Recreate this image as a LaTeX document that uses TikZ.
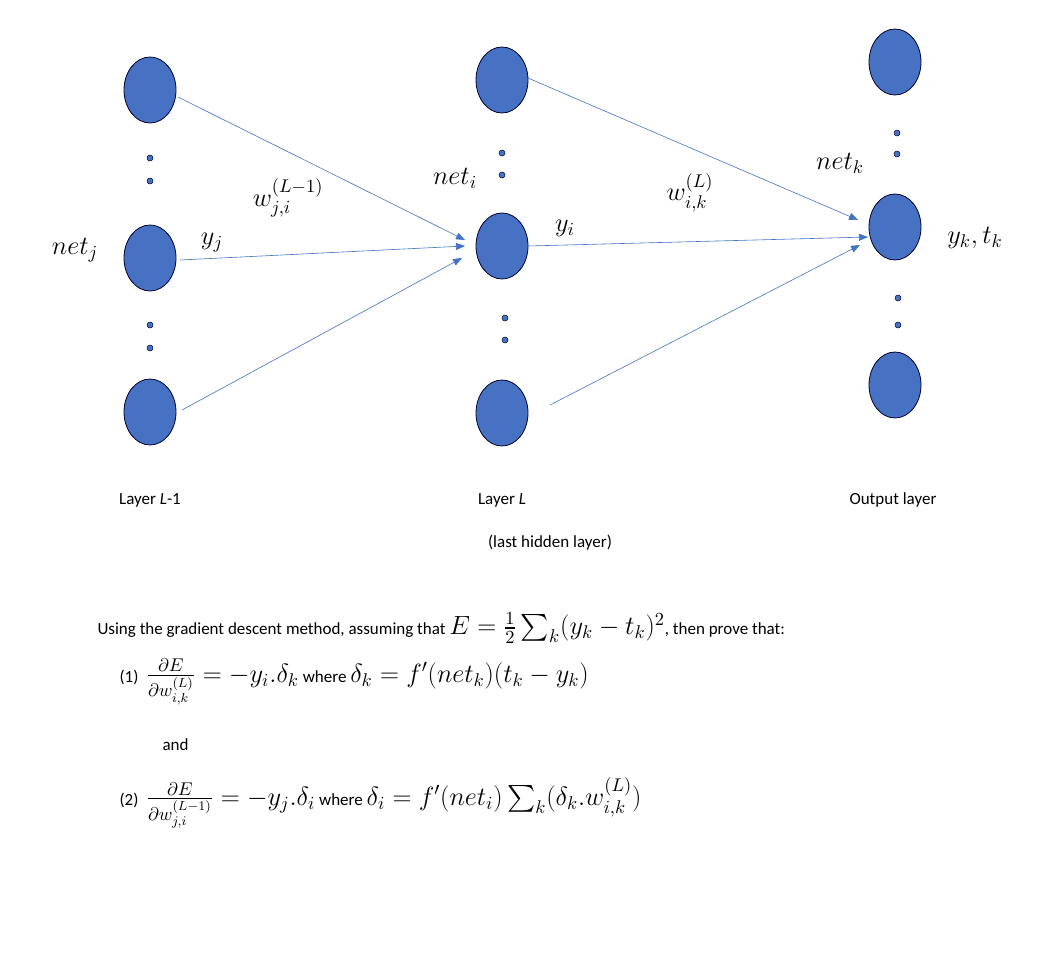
\RequirePackage{fix-cm}
\documentclass[tikz,border=0pt]{standalone}
\usepackage{amsmath}
\usepackage{graphicx}
\usepackage{fontspec}
\setmainfont{Carlito}
\usetikzlibrary{shapes.geometric,arrows.meta}
\newcommand\mymth[1]{\scalebox{1.55}{$#1$}}
\begin{document}
\begin{tikzpicture}[x=1pt,y=-1pt,
  neuron/.style={ellipse,draw=black!80!blue,line width=0.8pt,fill={rgb,255:red,71;green,114;blue,196},minimum width=52pt,minimum height=66pt,inner sep=0pt},
  dotn/.style={circle,draw=black!80!blue,line width=0.5pt,fill={rgb,255:red,71;green,114;blue,196},minimum size=6pt,inner sep=0pt},
  conn/.style={draw={rgb,255:red,68;green,114;blue,196},line width=0.6pt,-{Triangle[length=9pt,width=7pt]}},
  lab/.style={font=\fontsize{17}{20}\selectfont},
  txt/.style={font=\fontsize{17}{20}\selectfont,anchor=west}]
\useasboundingbox (0,0) rectangle (1044,958);
\fill[white] (0,0) rectangle (1044,958);
% layer L-1
\node[neuron] (a1) at (150,90) {};
\node[neuron] (a2) at (150,258) {};
\node[neuron] (a3) at (150,412) {};
\node[dotn] (ad1) at (150,158) {}; \node[dotn] (ad2) at (150,181) {};
\node[dotn] (ad3) at (150,325) {}; \node[dotn] (ad4) at (150,348) {};
% layer L
\node[neuron] (b1) at (502,80) {};
\node[neuron] (b2) at (502,246) {};
\node[neuron] (b3) at (502,413) {};
\node[dotn] (bd1) at (502,153) {}; \node[dotn] (bd2) at (502,175) {};
\node[dotn] (bd3) at (505,318) {}; \node[dotn] (bd4) at (505,340) {};
% output
\node[neuron] (c1) at (895,62) {};
\node[neuron] (c2) at (895,227) {};
\node[neuron] (c3) at (895,385) {};
\node[dotn] (cd1) at (897,133) {}; \node[dotn] (cd2) at (897,154) {};
\node[dotn] (cd3) at (898,298) {}; \node[dotn] (cd4) at (898,325) {};
% endpoints
\coordinate (e1) at (465,240); \coordinate (e2) at (465,246); \coordinate (e3) at (462,258);
\coordinate (f1) at (858,220); \coordinate (f2) at (868,237); \coordinate (f3) at (860,245);
\coordinate (s1) at (178,97); \coordinate (s2) at (180,260); \coordinate (s3) at (182,410);
\coordinate (t1) at (528,78); \coordinate (t2) at (528,246); \coordinate (t3) at (550,405);
\draw[conn] (s1) -- (e1);
\draw[conn] (s2) -- (e2);
\draw[conn] (s3) -- (e3);
\draw[conn] (t1) -- (f1);
\draw[conn] (t2) -- (f2);
\draw[conn] (t3) -- (f3);
% labels
\node[lab] (l1) at (75,250) {\mymth{net_j}};
\node[lab] (l2) at (212,243) {\mymth{y_j}};
\node[lab] (l3) at (288,198) {\mymth{w_{j,i}^{(L-1)}}};
\node[lab] (l4) at (455,178) {\mymth{net_i}};
\node[lab] (l5) at (565,228) {\mymth{y_i}};
\node[lab] (l6) at (690,193) {\mymth{w_{i,k}^{(L)}}};
\node[lab] (l7) at (840,163) {\mymth{net_k}};
\node[lab] (l8) at (975,238) {\mymth{y_k,t_k}};
\node[txt,anchor=center] (m1) at (150,500) {Layer \textit{L}-1};
\node[txt,anchor=center] (m2) at (502,500) {Layer \textit{L}};
\node[txt,anchor=center] (m3) at (550,543) {(last hidden layer)};
\node[txt,anchor=center] (m4) at (893,500) {Output layer};
% text
\node[txt] (q0) at (94,628) {Using the gradient descent method, assuming that \mymth{E=\frac{1}{2}\sum_k(y_k-t_k)^2}, then prove that:};
\node[txt] (q1) at (116,682) {(1)\ \ \mymth{\frac{\partial E}{\partial w_{i,k}^{(L)}}=-y_i.\delta_k} where \mymth{\delta_k=f'(net_k)(t_k-y_k)}};
\node[txt] (q2) at (159,745) {and};
\node[txt] (q3) at (116,803) {(2)\ \ \mymth{\frac{\partial E}{\partial w_{j,i}^{(L-1)}}=-y_j.\delta_i} where \mymth{\delta_i=f'(net_i)\sum_k(\delta_k.w_{i,k}^{(L)})}};
\end{tikzpicture}
\end{document}
